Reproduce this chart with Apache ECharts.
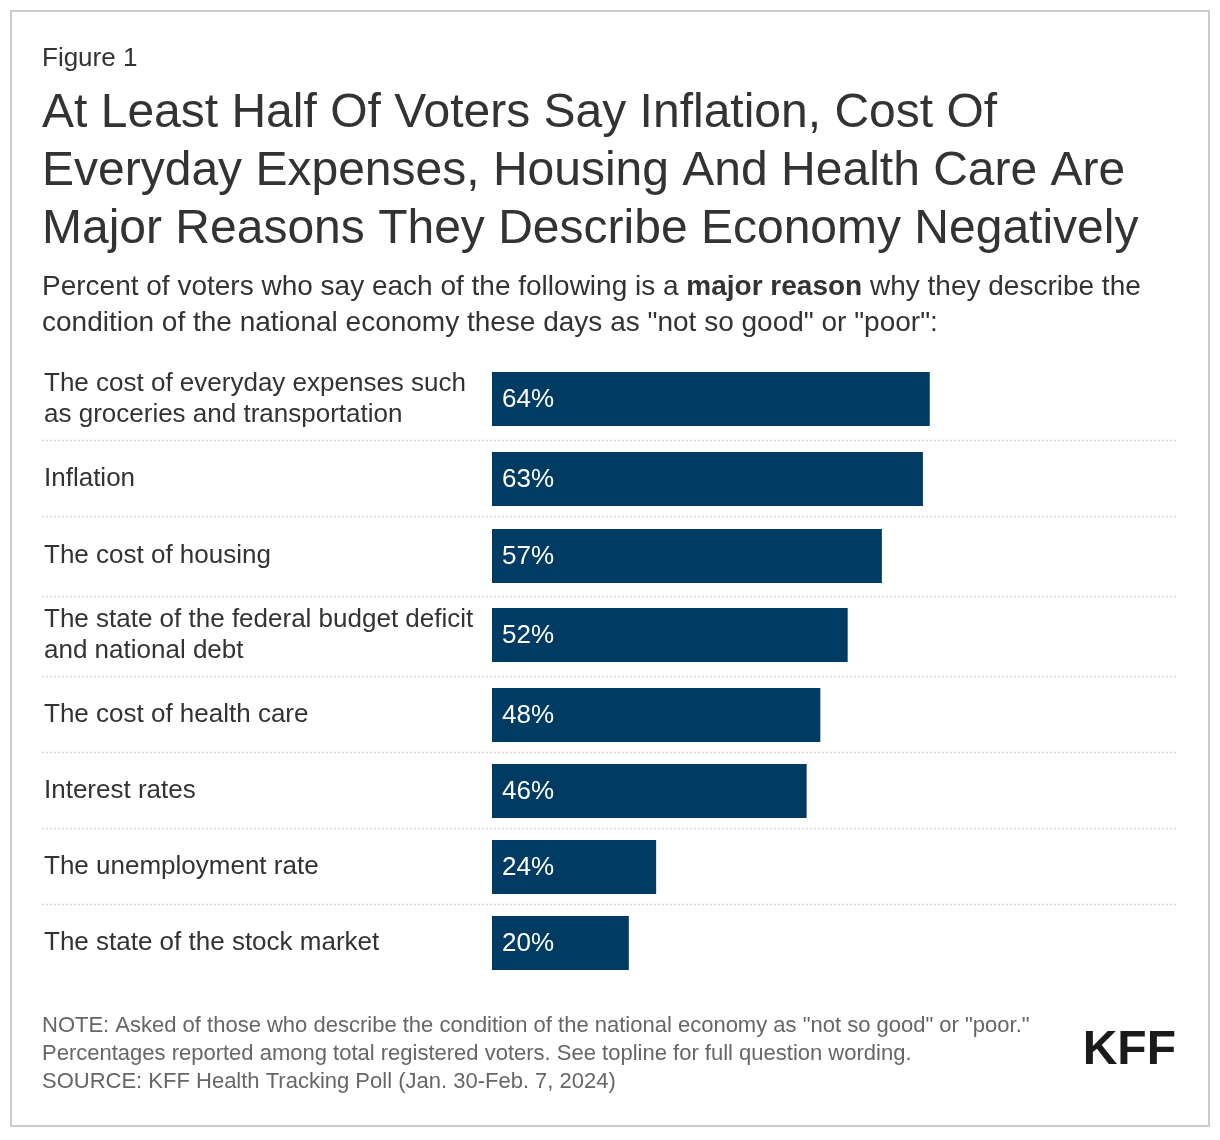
<!DOCTYPE html>
<html><head><meta charset="utf-8">
<script src="https://cdn.jsdelivr.net/npm/echarts@6/dist/echarts.min.js"></script>
<style>html,body{margin:0;padding:0;background:#fff}#c{width:1220px;height:1140px}</style>
</head><body><div id="c"></div>
<script>
const categories = [
  "The cost of everyday expenses such\nas groceries and transportation",
  "Inflation",
  "The cost of housing",
  "The state of the federal budget deficit\nand national debt",
  "The cost of health care",
  "Interest rates",
  "The unemployment rate",
  "The state of the stock market"
];
const values = [64, 63, 57, 52, 48, 46, 24, 20];
const axisMax = 100;

const FONT = '"Liberation Sans", Arial, Helvetica, sans-serif';
const barTops = [372, 452, 529, 608, 688, 764, 840, 916];
const barH = 54;
const sepYs = [440.5, 516.5, 596.5, 676.5, 752.5, 828.5, 904.5];

const grids = [], xAxes = [], yAxes = [], series = [];
categories.forEach((c, i) => {
  grids.push({left: 492, width: 684, top: barTops[i], height: barH, containLabel: false});
  xAxes.push({type: 'value', gridIndex: i, min: 0, max: axisMax, show: false});
  yAxes.push({type: 'category', gridIndex: i, data: [c],
    axisLine: {show: false}, axisTick: {show: false},
    axisLabel: {align: 'left', margin: 448, color: '#333', fontFamily: FONT, fontSize: 26, lineHeight: 31, padding: [3, 0, 0, 0]}});
  series.push({type: 'bar', xAxisIndex: i, yAxisIndex: i, data: [values[i]],
    barWidth: '100%', itemStyle: {color: '#003b63'}, silent: true,
    label: {show: true, position: 'insideLeft', distance: 10, offset: [0, 1], formatter: '{c}%', color: '#fff', fontFamily: FONT, fontSize: 26}});
});

const graphic = [
  {type: 'rect', shape: {x: 11, y: 11, width: 1198, height: 1115}, style: {fill: 'none', stroke: '#cccccc', lineWidth: 2}, silent: true}
];
sepYs.forEach(y => graphic.push({type: 'line', shape: {x1: 42, y1: y, x2: 1176, y2: y}, style: {stroke: '#d6d6d6', lineWidth: 1.5, lineDash: [2, 2]}, silent: true}));

const chart = echarts.init(document.getElementById('c'), null, {renderer: 'canvas'});
chart.setOption({
  animation: false,
  backgroundColor: '#fff',
  title: [
    {text: 'Figure 1', left: 37, top: 41, textStyle: {fontFamily: FONT, fontSize: 26, fontWeight: 'normal', color: '#333', lineHeight: 26}},
    {text: 'At Least Half Of Voters Say Inflation, Cost Of\nEveryday Expenses, Housing And Health Care Are\nMajor Reasons They Describe Economy Negatively',
     left: 37, top: 80, textStyle: {fontFamily: FONT, fontSize: 48, fontWeight: 'normal', color: '#333', lineHeight: 58}},
    {text: 'Percent of voters who say each of the following is a {b|major reason} why they describe the\ncondition of the national economy these days as "not so good" or "poor":',
     left: 37, top: 264, textStyle: {fontFamily: FONT, fontSize: 28, fontWeight: 'normal', color: '#333', lineHeight: 36,
       rich: {b: {fontFamily: FONT, fontSize: 28, fontWeight: 'bold', color: '#333', lineHeight: 36}}}},
    {text: 'NOTE: Asked of those who describe the condition of the national economy as "not so good" or "poor."\nPercentages reported among total registered voters. See topline for full question wording.\nSOURCE: KFF Health Tracking Poll (Jan. 30-Feb. 7, 2024)',
     left: 37, top: 1007, textStyle: {fontFamily: FONT, fontSize: 22, fontWeight: 'normal', color: '#666', lineHeight: 28}},
    {text: 'KFF', right: 39, top: 1022, textStyle: {fontFamily: FONT, fontSize: 48, fontWeight: 'bold', color: '#1a1a1a', lineHeight: 48}}
  ],
  grid: grids, xAxis: xAxes, yAxis: yAxes, series: series, graphic: graphic
});
</script></body></html>
